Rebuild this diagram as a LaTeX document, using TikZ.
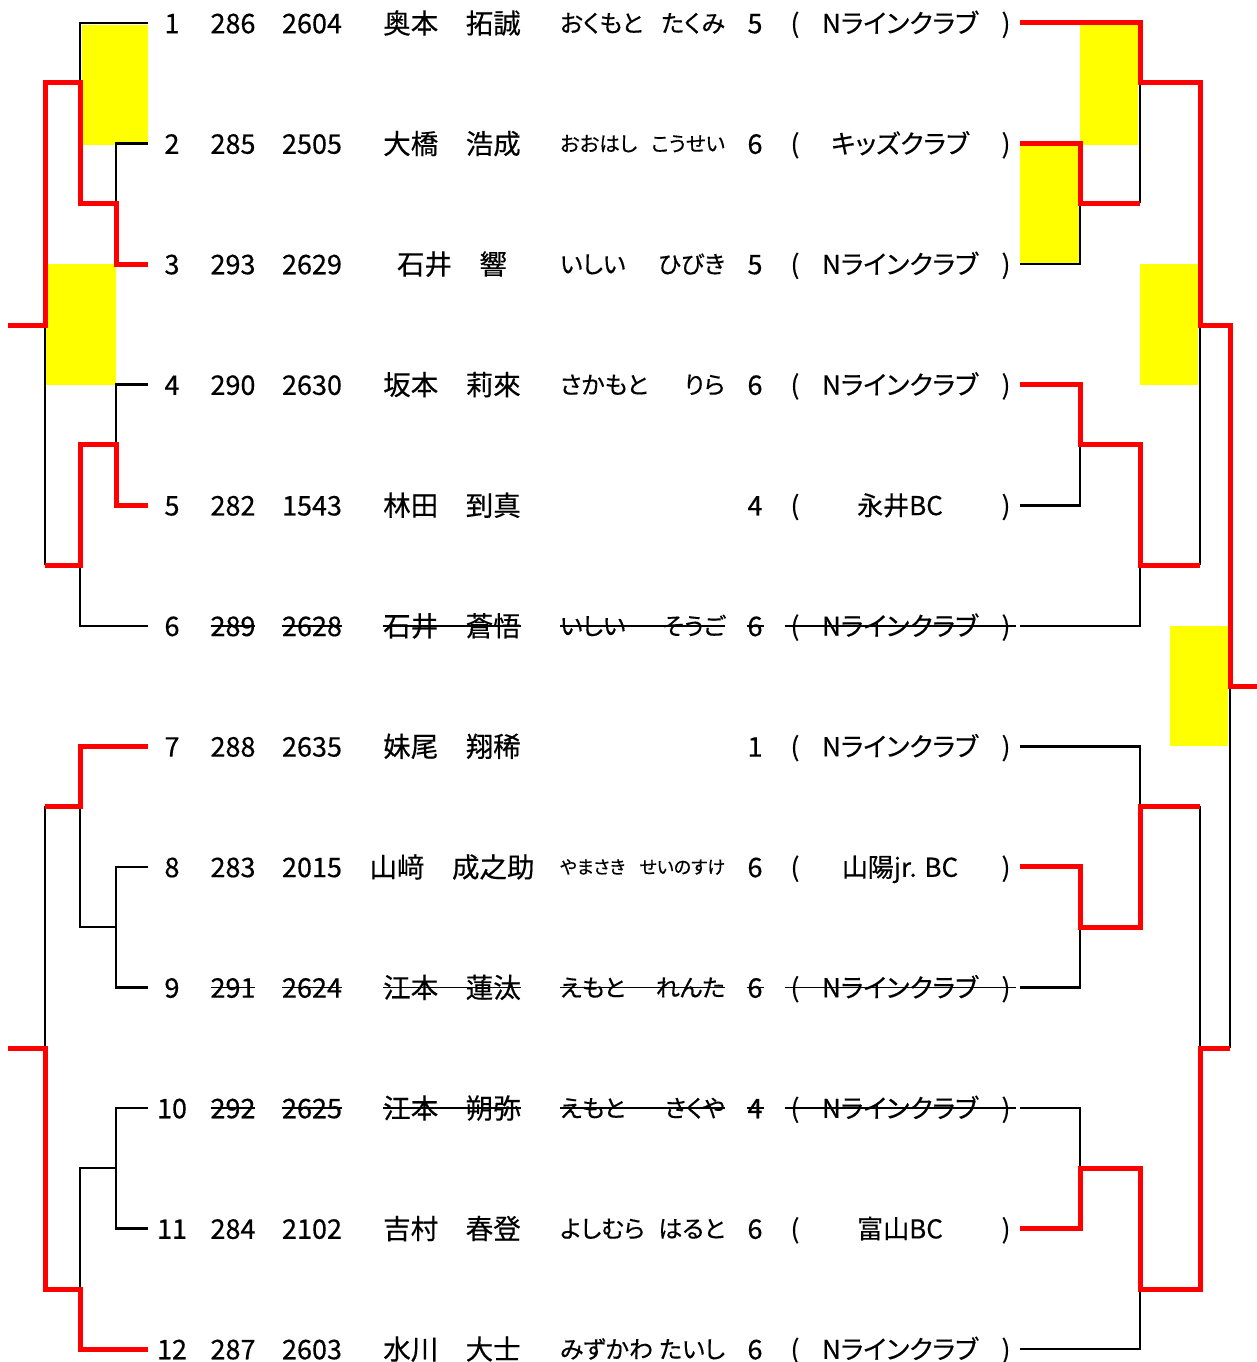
\documentclass[tikz,border=0pt]{standalone}
\usepackage{fontspec}
\setmainfont{Noto Sans CJK JP}[FakeBold=0.4]
\newfontfamily\kanafont{Noto Sans CJK JP}[RawFeature=+palt, FakeBold=0.4]
\definecolor{winred}{HTML}{FF0000}
\definecolor{yel}{HTML}{FFFF00}
\tikzset{
  blk/.style={line width=2.6pt, black, line join=miter},
  win/.style={line width=5pt, winred, line join=miter},
  strk/.style={line width=1.4pt, black},
  dig/.style={inner sep=0pt, outer sep=0pt, font=\fontsize{27}{27}\selectfont, text height=20.5pt, text depth=0pt},
  nm/.style={inner sep=0pt, outer sep=0pt, font=\fontsize{27.5}{27.5}\selectfont, text height=20.9pt, text depth=0pt},
  cl/.style={inner sep=0pt, outer sep=0pt, font=\kanafont\fontsize{26}{26}\selectfont, text height=19.8pt, text depth=0pt},
}
\newcommand\entry[9]{%
  \node[dig] (s#1) at (172,#2) {#1};
  \node[dig] (n#1) at (233,#2) {#3};
  \node[dig] (i#1) at (312,#2) {#4};
  \node[nm] (m#1) at (452,#2) {#5};
  \node[inner sep=0pt, outer sep=0pt, anchor=west, font=\kanafont\fontsize{#8}{#8}\selectfont, text height={#8pt*0.76}, text depth=0pt] (k#1) at (560,#2) {\makebox[165pt][l]{#6\hfill#7}};
  \node[dig] (g#1) at (755,#2) {#9};
}
\newcommand\club[3]{%
  \node[cl] (lp#1) at (795,#2) {(};
  \node[cl] (c#1) at (900,#2) {#3};
  \node[cl] (rp#1) at (1006,#2) {)};
}
\begin{document}
\begin{tikzpicture}[x=1pt,y=-1pt]
\useasboundingbox (0,0) rectangle (1257,1362);
% yellow highlights
\fill[yel] (82,25) rectangle (148,145);
\fill[yel] (46,264) rectangle (116,385);
\fill[yel] (1080,25) rectangle (1138,145);
\fill[yel] (1020,145) rectangle (1080,264);
\fill[yel] (1140,264) rectangle (1198,385);
\fill[yel] (1170,626) rectangle (1228,746);
% rows
\entry{1}{23}{286}{2604}{奥本　拓誠}{おくもと}{たくみ}{24}{5}
\entry{2}{143.5}{285}{2505}{大橋　浩成}{おおはし}{こうせい}{20.5}{6}
\entry{3}{264}{293}{2629}{石井　響}{いしい}{ひびき}{24}{5}
\entry{4}{384.6}{290}{2630}{坂本　莉來}{さかもと}{りら}{24}{6}
\entry{5}{505.2}{282}{1543}{林田　到真}{}{}{24}{4}
\entry{6}{625.8}{289}{2628}{石井　蒼悟}{いしい}{そうご}{24}{6}
\entry{7}{746.3}{288}{2635}{妹尾　翔稀}{}{}{24}{1}
\entry{8}{866.9}{283}{2015}{山﨑　成之助}{やまさき}{せいのすけ}{18}{6}
\entry{9}{987.4}{291}{2624}{江本　蓮汰}{えもと}{れんた}{24}{6}
\entry{10}{1108}{292}{2625}{江本　朔弥}{えもと}{さくや}{24}{4}
\entry{11}{1228.5}{284}{2102}{吉村　春登}{よしむら}{はると}{24}{6}
\entry{12}{1349}{287}{2603}{水川　大士}{みずかわ}{たいし}{24}{6}
\club{1}{23}{Nラインクラブ}
\club{2}{143.5}{キッズクラブ}
\club{3}{264}{Nラインクラブ}
\club{4}{384.6}{Nラインクラブ}
\club{5}{505.2}{永井BC}
\club{6}{625.8}{Nラインクラブ}
\club{7}{746.3}{Nラインクラブ}
\club{8}{866.9}{山陽jr. BC}
\club{9}{987.4}{Nラインクラブ}
\club{10}{1108}{Nラインクラブ}
\club{11}{1228.5}{富山BC}
\club{12}{1349}{Nラインクラブ}
% strike-through for withdrawn entries
\foreach \r in {6,9,10}{
  \draw[strk] (n\r.west) -- (n\r.east);
  \draw[strk] (i\r.west) -- (i\r.east);
  \draw[strk] (m\r.west) -- (m\r.east);
  \draw[strk] (k\r.west) -- (k\r.east);
  \draw[strk] ([xshift=-1pt]g\r.west) -- ([xshift=1pt]g\r.east);
  \draw[strk] ([xshift=-6pt]lp\r.west) -- ([xshift=6pt]rp\r.east);
}
% bracket end points
\foreach \r/\y in {1/23,2/143.5,3/264,4/384.6,5/505.2,6/625.8,7/746.3,8/866.9,9/987.4,10/1108,11/1228.5,12/1349}{
  \coordinate (L\r) at (148,\y);
  \coordinate (R\r) at (1020,\y);
}
% left bracket - black
\draw[blk] (L1) -| (80,83);
\draw[blk] (L2) -| (116,203);
\draw[blk] (45,325) -- (45,565);
\draw[blk] (L4) -| (116,444);
\draw[blk] (L6) -| (80,565);
\draw[blk] (45,806) -- (45,1048);
\draw[blk] (L8) -| (116,927);
\draw[blk] (L9) -| (116,927) -- (80,927) -- (80,806);
\draw[blk] (L10) -| (116,1168);
\draw[blk] (L11) -| (116,1168) -- (80,1168) -- (80,1289);
% right bracket - black
\draw[blk] (1140,83) -- (1140,203);
\draw[blk] (R3) -| (1080,203);
\draw[blk] (1200,325) -- (1200,565);
\draw[blk] (R5) -| (1080,444);
\draw[blk] (R6) -| (1140,565);
\draw[blk] (R7) -| (1140,806);
\draw[blk] (R9) -| (1080,927);
\draw[blk] (1200,806) -- (1200,1048);
\draw[blk] (1230,686) -- (1230,1048);
\draw[blk] (R10) -| (1080,1168);
\draw[blk] (R12) -| (1140,1289);
% left bracket - winners
\draw[win] (L3) -| (116,203) -| (80,83) -| (45,325) -- (8,325);
\draw[win] (L5) -| (116,444) -| (80,565) -- (45,565);
\draw[win] (L7) -| (80,806) -- (45,806);
\draw[win] (L12) -| (80,1289) -| (45,1048) -- (8,1048);
% right bracket - winners
\draw[win] (R1) -| (1140,83) -| (1200,325) -| (1230,686) -- (1257,686);
\draw[win] (R2) -| (1080,203) -- (1140,203);
\draw[win] (R4) -| (1080,444) -| (1140,565) -- (1200,565);
\draw[win] (R8) -| (1080,927) -| (1140,806) -- (1200,806);
\draw[win] (R11) -| (1080,1168) -| (1140,1289) -| (1200,1048) -- (1230,1048);
\end{tikzpicture}
\end{document}
